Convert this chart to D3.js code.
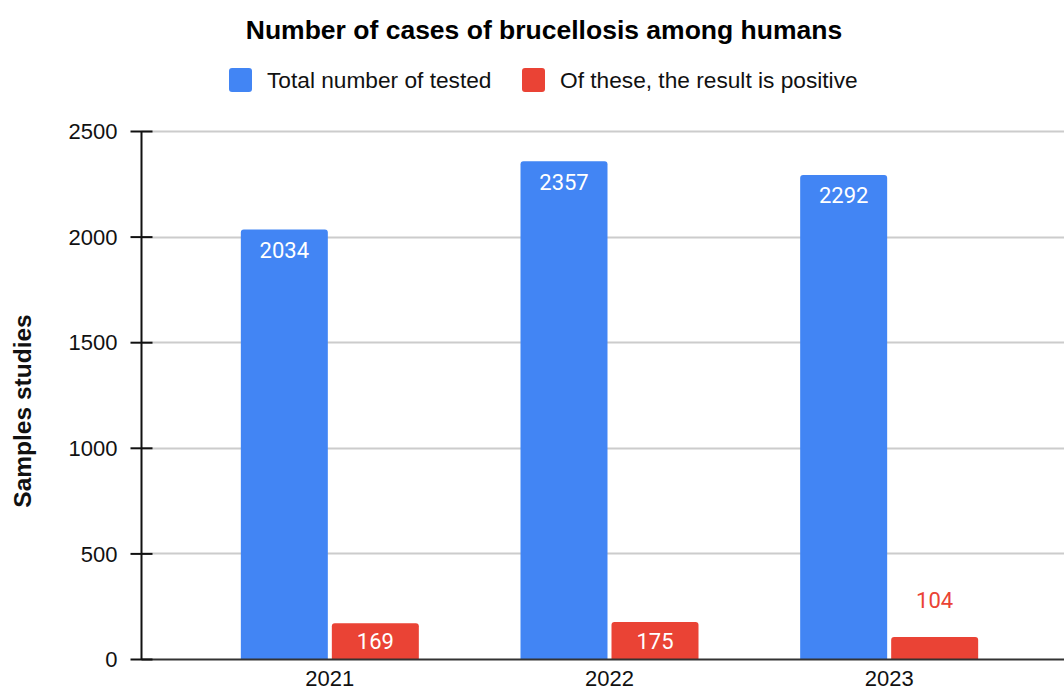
<!DOCTYPE html>
<html>
<head>
<meta charset="utf-8">
<script src="https://cdn.jsdelivr.net/npm/d3@7"></script>
<style>
html,body{margin:0;padding:0;background:#fff;}
svg{display:block;}
</style>
</head>
<body>
<svg id="chart" width="1064" height="691"></svg>
<script>
const years = ["2021", "2022", "2023"];
const seriesNames = ["Total number of tested", "Of these, the result is positive"];
const totalTested = [2034, 2357, 2292];
const positive = [169, 175, 104];
const yTicks = [0, 500, 1000, 1500, 2000, 2500];
const colors = ["#4285F4", "#EA4335"];
const titleText = "Number of cases of brucellosis among humans";
const yTitle = "Samples studies";

const seriesValues = [totalTested, positive];
const data = years.map((y, i) => ({year: y, values: seriesValues.map((s, k) => ({k, v: s[i]}))}));

const svg = d3.select("#chart");
const axisX = 141.5, plotRight = 1064;

const y = d3.scaleLinear().domain([0, 2500]).range([659, 131]);
const x0 = d3.scaleBand().domain(years).range([190, 1029]).paddingInner(0).paddingOuter(0);
const x1 = d3.scaleBand().domain([0, 1]).range([-89, 89]).paddingInner(0.044).paddingOuter(0);

// gridlines
svg.append("g").selectAll("line").data(yTicks.filter(t => t > 0)).join("line")
  .attr("x1", axisX).attr("x2", plotRight)
  .attr("y1", d => Math.round(y(d)) + 0.5).attr("y2", d => Math.round(y(d)) + 0.5)
  .attr("stroke", "#cccccc").attr("stroke-width", 2);

// bars
const radius = 3;
function barPath(xl, w, top, bottom) {
  const r = Math.min(radius, (bottom - top));
  return `M${xl},${bottom}V${top + r}Q${xl},${top} ${xl + r},${top}H${xl + w - r}Q${xl + w},${top} ${xl + w},${top + r}V${bottom}Z`;
}
const groups = svg.append("g").selectAll("g").data(data).join("g")
  .attr("transform", d => `translate(${x0(d.year) + x0.bandwidth() / 2},0)`);
groups.selectAll("path").data(d => d.values).join("path")
  .attr("d", d => barPath(x1(d.k), x1.bandwidth(), y(d.v), y(0)))
  .attr("fill", d => colors[d.k]);

// value labels
groups.selectAll("text").data(d => d.values).join("text")
  .attr("x", d => x1(d.k) + x1.bandwidth() / 2)
  .attr("y", d => {
    const top = y(d.v), h = y(0) - top;
    if (h < 30) return top - 29;
    return Math.min(top + 28.5, y(0) - 10.5);
  })
  .attr("text-anchor", "middle")
  .attr("font-family", "Roboto, sans-serif")
  .attr("font-size", 22)
  .attr("fill", d => (y(0) - y(d.v) < 30) ? colors[d.k] : "#ffffff")
  .text(d => d.v);

// baseline
svg.append("line").attr("x1", axisX).attr("x2", plotRight)
  .attr("y1", y(0) + 0.5).attr("y2", y(0) + 0.5)
  .attr("stroke", "#333333").attr("stroke-width", 2);

// y axis
const yAxis = d3.axisLeft(y).tickValues(yTicks).tickFormat(d3.format("d")).tickSize(0).tickPadding(0);
const ga = svg.append("g").attr("transform", `translate(${axisX},0)`).call(yAxis);
ga.select(".domain").remove();
ga.selectAll(".tick text").attr("x", -24).attr("dy", "0.35em")
  .attr("font-family", "Liberation Sans, Arial, sans-serif").attr("font-size", 22).attr("fill", "#111");
ga.selectAll(".tick").append("line").attr("x1", -11).attr("x2", 11)
  .attr("stroke", "#111").attr("stroke-width", 2);
ga.append("line").attr("x1", 0).attr("x2", 0).attr("y1", y(2500)).attr("y2", y(0))
  .attr("stroke", "#111").attr("stroke-width", 2);

// x axis labels
const xAxis = d3.axisBottom(x0).tickSize(0).tickPadding(0);
const gx = svg.append("g").attr("transform", `translate(0,${y(0)})`).call(xAxis);
gx.select(".domain").remove();
gx.selectAll(".tick text").attr("y", 27).attr("dy", 0)
  .attr("font-family", "Liberation Sans, Arial, sans-serif").attr("font-size", 22).attr("fill", "#111");

// title
svg.append("text").attr("x", 544).attr("y", 39).attr("text-anchor", "middle")
  .attr("font-family", "Liberation Sans, Arial, sans-serif").attr("font-weight", "bold")
  .attr("font-size", 26.5).attr("fill", "#000").text(titleText);

// y title
svg.append("text").attr("transform", `translate(31,411) rotate(-90)`).attr("text-anchor", "middle")
  .attr("font-family", "Liberation Sans, Arial, sans-serif").attr("font-weight", "bold")
  .attr("font-size", 24.5).attr("fill", "#111").text(yTitle);

// legend
const legendItems = [{x: 229, k: 0}, {x: 522, k: 1}];
const lg = svg.append("g").selectAll("g").data(legendItems).join("g")
  .attr("transform", d => `translate(${d.x},68)`);
lg.append("rect").attr("width", 23).attr("height", 24).attr("rx", 3)
  .attr("fill", d => colors[d.k]);
lg.append("text").attr("x", 38).attr("y", 20)
  .attr("font-family", "Liberation Sans, Arial, sans-serif").attr("font-size", 22.7).attr("fill", "#111")
  .text(d => seriesNames[d.k]);
</script>
</body>
</html>
